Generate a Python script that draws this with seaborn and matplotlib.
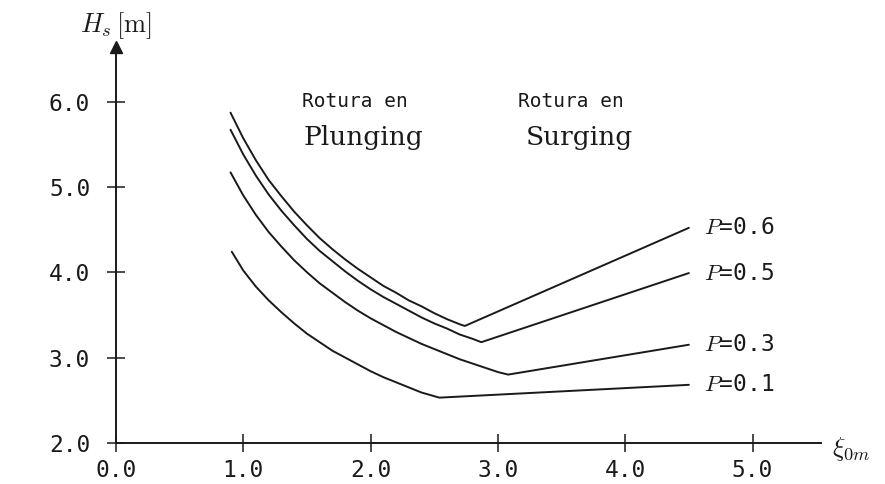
import numpy as np
import pandas as pd
import seaborn as sns
import matplotlib.pyplot as plt

# values (xi_0m -> Hs [m])
xi_p06 = [0.90, 1.0, 1.1, 1.2, 1.3, 1.4, 1.5, 1.6, 1.7, 1.8, 1.9, 2.0, 2.1, 2.2, 2.3,
          2.4, 2.5, 2.6, 2.7, 2.74, 4.50]
hs_p06 = [5.87, 5.57, 5.31, 5.08, 4.89, 4.71, 4.55, 4.40, 4.27, 4.15, 4.04, 3.94, 3.84,
          3.76, 3.67, 3.60, 3.52, 3.45, 3.39, 3.37, 4.52]

xi_p05 = [0.90, 1.0, 1.1, 1.2, 1.3, 1.4, 1.5, 1.6, 1.7, 1.8, 1.9, 2.0, 2.1, 2.2, 2.3,
          2.4, 2.5, 2.6, 2.7, 2.8, 2.87, 4.50]
hs_p05 = [5.67, 5.38, 5.13, 4.91, 4.72, 4.55, 4.39, 4.25, 4.13, 4.01, 3.90, 3.80, 3.71,
          3.63, 3.55, 3.47, 3.40, 3.34, 3.27, 3.22, 3.18, 3.99]

xi_p03 = [0.90, 1.0, 1.1, 1.2, 1.3, 1.4, 1.5, 1.6, 1.7, 1.8, 1.9, 2.0, 2.1, 2.2, 2.3,
          2.4, 2.5, 2.6, 2.7, 2.8, 2.9, 3.0, 3.08, 4.50]
hs_p03 = [5.17, 4.90, 4.67, 4.47, 4.30, 4.14, 4.00, 3.87, 3.76, 3.65, 3.55, 3.46, 3.38,
          3.30, 3.23, 3.16, 3.10, 3.04, 2.98, 2.93, 2.88, 2.83, 2.80, 3.15]

xi_p01 = [0.91, 1.0, 1.1, 1.2, 1.3, 1.4, 1.5, 1.6, 1.7, 1.8, 1.9, 2.0, 2.1, 2.2, 2.3,
          2.4, 2.54, 4.50]
hs_p01 = [4.24, 4.02, 3.83, 3.67, 3.53, 3.40, 3.28, 3.18, 3.08, 3.00, 2.92, 2.84, 2.77,
          2.71, 2.65, 2.59, 2.53, 2.68]

p_labels = ["0.6", "0.5", "0.3", "0.1"]
x_ticks = [0.0, 1.0, 2.0, 3.0, 4.0, 5.0]
y_ticks = [2.0, 3.0, 4.0, 5.0, 6.0]

curves = [(xi_p06, hs_p06), (xi_p05, hs_p05), (xi_p03, hs_p03), (xi_p01, hs_p01)]
df = pd.concat([pd.DataFrame({"xi": x, "Hs": h, "P": p})
                for p, (x, h) in zip(p_labels, curves)])

sns.set_theme(style="white")
plt.rcParams["font.family"] = ["DejaVu Sans Mono", "DejaVu Sans"]
plt.rcParams["mathtext.fontset"] = "cm"

ink = "#1a1a1a"
fig = plt.figure(figsize=(8.85, 4.84), dpi=100)
ax = fig.add_axes([0.131, 0.085, 0.797, 0.818])

sns.lineplot(data=df, x="xi", y="Hs", hue="P", palette=[ink] * 4,
             estimator=None, sort=False, legend=False, lw=1.4,
             solid_joinstyle="round", ax=ax)

ax.set_xlim(0, 5.54)
ax.set_ylim(2.0, 6.64)
ax.set_xticks(x_ticks)
ax.set_yticks(y_ticks)
ax.set_xticklabels([f"{v:.1f}" for v in x_ticks])
ax.set_yticklabels([f"{v:.1f}" for v in y_ticks])
ax.set_xlabel("")
ax.set_ylabel("")
ax.tick_params(axis="both", direction="inout", length=13, width=1.1,
               colors=ink, labelsize=16.5, bottom=True, left=True)
ax.tick_params(axis="y", pad=12)
ax.tick_params(axis="x", pad=5)

for side in ["top", "right"]:
    ax.spines[side].set_visible(False)
for side in ["left", "bottom"]:
    ax.spines[side].set_linewidth(1.4)
    ax.spines[side].set_color(ink)

# axis arrows
ax.plot(1, 0, ">", color=ink, ms=9, transform=ax.get_yaxis_transform(), clip_on=False)
ax.plot(0, 1, "^", color=ink, ms=9, transform=ax.get_xaxis_transform(), clip_on=False)

# curve labels
for p, (x, h) in zip(p_labels, curves):
    ax.text(x[-1] + 0.12, h[-1], f"$P$={p}", va="center", ha="left",
            fontsize=16.5, color=ink)

# regime annotations
ax.text(1.46, 6.0, "Rotura en", fontsize=14, color=ink, va="center")
ax.text(1.47, 5.58, "Plunging", fontsize=19, color=ink, va="center", family="DejaVu Serif")
ax.text(3.16, 6.0, "Rotura en", fontsize=14, color=ink, va="center")
ax.text(3.22, 5.58, "Surging", fontsize=19, color=ink, va="center", family="DejaVu Serif")

fig.text(0.131, 0.948, r"$H_s\,[\mathrm{m}]$", ha="center", va="center", fontsize=19, color=ink)
ax.text(1.015, -0.015, r"$\xi_{0m}$", transform=ax.transAxes, ha="left", va="center",
        fontsize=19, color=ink)

fig.savefig("out.png", dpi=100, facecolor="white")
